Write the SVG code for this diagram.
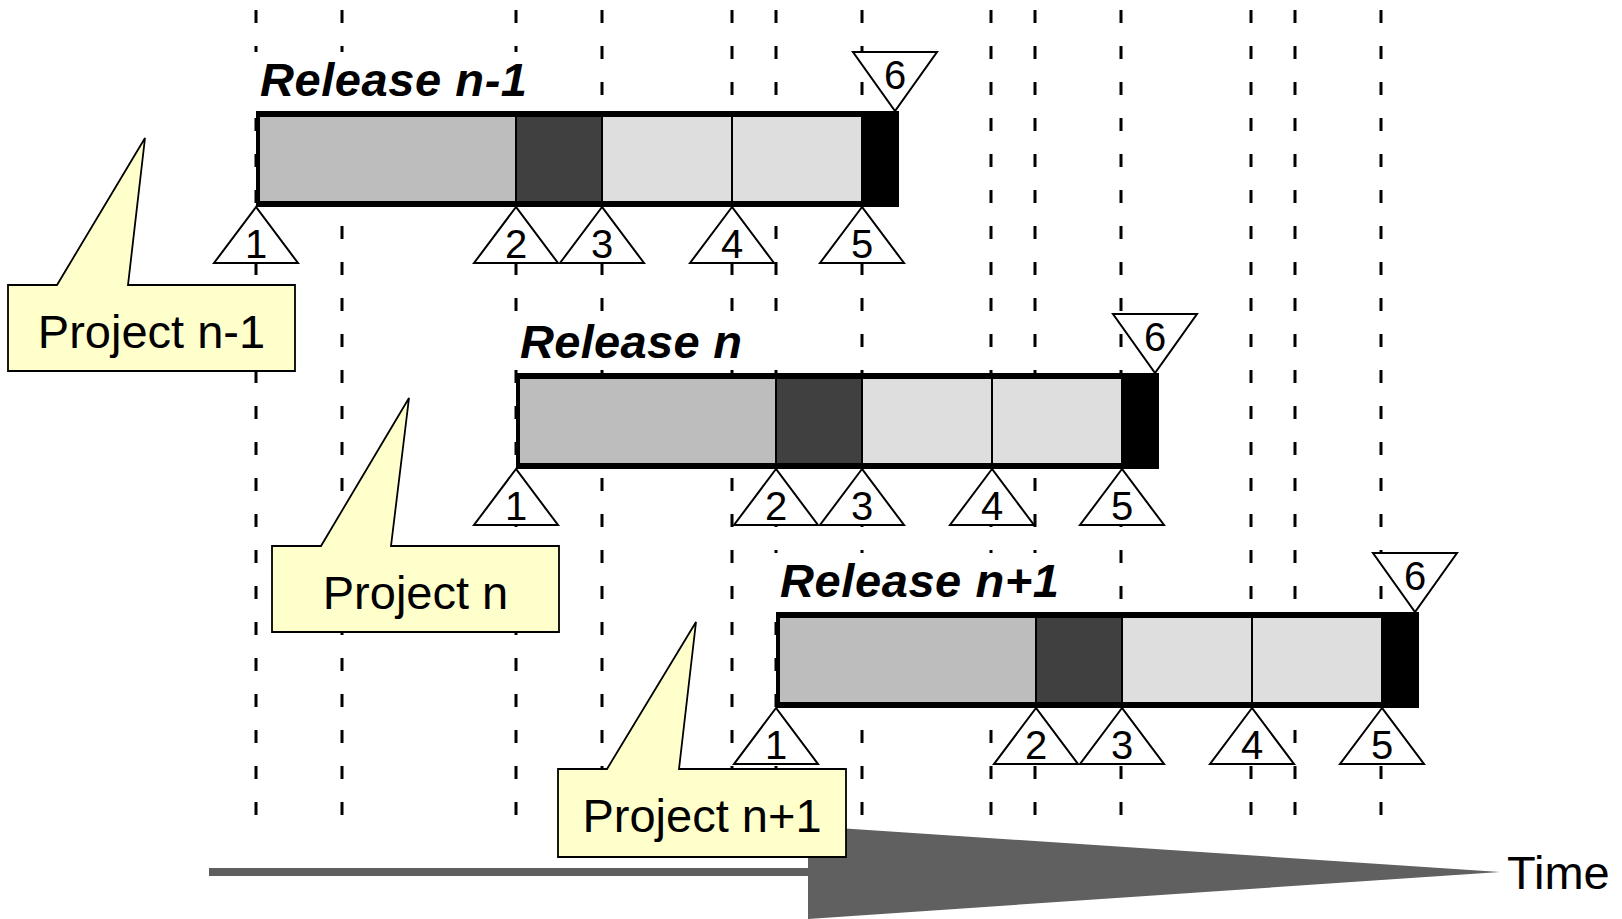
<svg xmlns="http://www.w3.org/2000/svg" xmlns:xlink="http://www.w3.org/1999/xlink" width="1622" height="919" viewBox="0 0 1622 919">
  <style>
    .grid { stroke: #000; stroke-width: 3; stroke-dasharray: 13 23; fill: none; }
    .rel { font-family: "Liberation Sans", Arial, sans-serif; font-weight: bold; font-style: italic; font-size: 47px; fill: #000; }
    .num { font-family: "Liberation Sans", Arial, sans-serif; font-size: 40px; fill: #000; text-anchor: middle; }
    .tri { fill: #fff; stroke: #000; stroke-width: 2; stroke-linejoin: miter; }
    .callout { fill: #ffffcc; stroke: #000; stroke-width: 1.8; stroke-linejoin: miter; }
    .ctext { font-family: "Liberation Sans", Arial, sans-serif; font-size: 47px; fill: #000; text-anchor: middle; }
    .time { font-family: "Liberation Sans", Arial, sans-serif; font-size: 47px; fill: #000; }
    .mask { fill: #fff; }
  </style>
  <defs>
    <!-- one release bar with its six milestones, drawn at the first release position -->
    <g id="release">
      <rect x="256" y="111" width="643" height="96" fill="#000"/>
      <rect x="260" y="117" width="255" height="84" fill="#bdbdbd"/>
      <rect x="517" y="117" width="84" height="84" fill="#404040"/>
      <rect x="603" y="117" width="128" height="84" fill="#dedede"/>
      <rect x="733" y="117" width="128" height="84" fill="#dedede"/>
      <polygon class="tri" points="256,207 214,263 298,263"/>
      <polygon class="tri" points="516,207 474,263 558,263"/>
      <polygon class="tri" points="602,207 560,263 644,263"/>
      <polygon class="tri" points="732,207 690,263 774,263"/>
      <polygon class="tri" points="862,207 820,263 904,263"/>
      <polygon class="tri" points="853,52 937,52 895,111"/>
      <text class="num" x="256" y="258">1</text>
      <text class="num" x="516" y="258">2</text>
      <text class="num" x="602" y="258">3</text>
      <text class="num" x="732" y="258">4</text>
      <text class="num" x="862" y="258">5</text>
      <text class="num" x="895" y="89">6</text>
    </g>
  </defs>

  <rect width="1622" height="919" fill="#fff"/>

  <!-- time grid -->
  <g id="connectors">
    <path class="grid" d="M256,10V822 M342,10V822 M516,10V822 M602,10V822 M732,10V822 M776,10V822 M862,10V822 M991,10V822 M1035,10V822 M1121,10V822 M1251,10V822 M1295,10V822 M1381,10V822"/>
  </g>

  <!-- release labels sit on white plates over the grid -->
  <g id="release-n-1">
    <rect class="mask" x="252" y="52" width="304" height="56"/>
    <text class="rel" x="260" y="96" textLength="267" lengthAdjust="spacing">Release n-1</text>
    <use xlink:href="#release"/>
  </g>
  <g id="release-n">
    <rect class="mask" x="512" y="314" width="304" height="56"/>
    <text class="rel" x="520" y="358" textLength="222" lengthAdjust="spacing">Release n</text>
    <use xlink:href="#release" transform="translate(260,262)"/>
  </g>
  <g id="release-n+1">
    <rect class="mask" x="772" y="553" width="304" height="56"/>
    <text class="rel" x="780" y="597" textLength="279" lengthAdjust="spacing">Release n+1</text>
    <use xlink:href="#release" transform="translate(520,501)"/>
  </g>

  <!-- time axis -->
  <g id="time-axis">
    <rect x="209" y="868" width="600" height="8" fill="#5f5f5f"/>
    <polygon points="808,826 808,919 1500,872" fill="#606060"/>
    <text class="time" x="1507" y="889">Time</text>
  </g>

  <!-- project callouts -->
  <g id="project-n-1">
    <path class="callout" d="M8,285H57L145,138L128,285H295V371H8Z"/>
    <text class="ctext" x="151.5" y="348">Project n-1</text>
  </g>
  <g id="project-n">
    <path class="callout" d="M272,546H321L409,398L391,546H559V632H272Z"/>
    <text class="ctext" x="415.5" y="609">Project n</text>
  </g>
  <g id="project-n+1">
    <path class="callout" d="M558,769H607L696,622L679,769H846V857H558Z"/>
    <text class="ctext" x="702" y="832">Project n+1</text>
  </g>
</svg>
